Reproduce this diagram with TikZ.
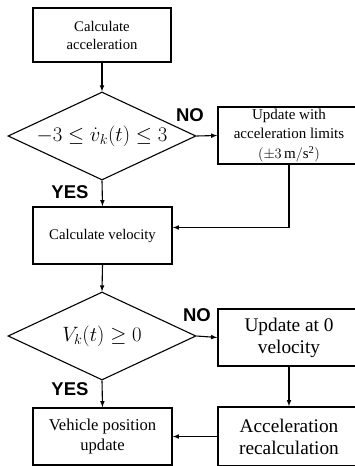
\documentclass[tikz,border=0pt]{standalone}
\usepackage{amsmath}
\usepackage{amssymb}
\usepackage{fontspec}
\setmainfont{Liberation Serif}
\setsansfont{Liberation Sans}
\usetikzlibrary{shapes.geometric}

\tikzset{
 proc/.style={draw,rectangle,line width=1.6pt,align=center,inner sep=1pt},
 dec/.style={draw,diamond,line width=1.1pt,shape aspect=2.14,inner sep=0pt,minimum width=188pt,minimum height=88pt,font=\fontsize{20}{24}\selectfont},
 yesno/.style={font=\sffamily\bfseries\fontsize{18.5}{20}\selectfont},
 arr/.style={->,>=latex,line width=1.1pt}
}

\begin{document}
\begin{tikzpicture}[x=1pt,y=-1pt]
 \useasboundingbox (0,0) rectangle (355,466);

 \coordinate (c1) at (102,35);
 \coordinate (c2) at (102,136);
 \coordinate (c3) at (289,135.5);
 \coordinate (c4) at (102.5,235.5);
 \coordinate (c5) at (102,336);
 \coordinate (c6) at (289,337.5);
 \coordinate (c7) at (289,436.5);
 \coordinate (c8) at (102.5,436.5);


\node [proc,minimum width=138pt,minimum height=54pt,font=\fontsize{14.7}{18}\selectfont] (acc) at (c1) {Calculate\\acceleration};
\node [dec] (chk1) at (c2) {$-3\leq \dot{v}_k(t)\leq 3$};
\node [proc,minimum width=142pt,minimum height=57pt,font=\fontsize{15}{19.5}\selectfont] (lim) at (c3) {Update with\\acceleration limits\\$(\pm3\,\mathrm{m/s^2})$};
\node [proc,minimum width=139pt,minimum height=57pt,font=\fontsize{14.7}{18}\selectfont] (vel) at (c4) {Calculate velocity};
\node [dec] (chk2) at (c5) {$V_k(t)\geq 0$};
\node [proc,minimum width=142pt,minimum height=57pt,font=\fontsize{19.3}{22}\selectfont] (zero) at (c6) {Update at 0\\velocity};
\node [proc,minimum width=142pt,minimum height=59pt,font=\fontsize{19.3}{22}\selectfont] (recalc) at (c7) {Acceleration\\recalculation};
\node [proc,minimum width=139pt,minimum height=57pt,font=\fontsize{16.6}{20}\selectfont] (pos) at (c8) {Vehicle position\\update};


\draw[arr] (acc)--(chk1);
\draw[arr] (chk1.east)--(lim.west);
\draw[arr] (chk1.south)--(vel.north);
\draw[arr] (lim.south) |- ([yshift=8pt]vel.east);
\draw[arr] (vel.south)--(chk2.north);
\draw[arr] (chk2.east)--(zero.west);
\draw[arr] (chk2.south)--(pos.north);
\draw[arr] (zero.south)--(recalc.north);
\draw[arr] (recalc.west)--(pos.east);


\node [yesno] (no1) at (190,115) {NO};
\node [yesno] (yes1) at (70,192) {YES};
\node [yesno] (no2) at (197,315) {NO};
\node [yesno] (yes2) at (70,389) {YES};

\end{tikzpicture}
\end{document}
